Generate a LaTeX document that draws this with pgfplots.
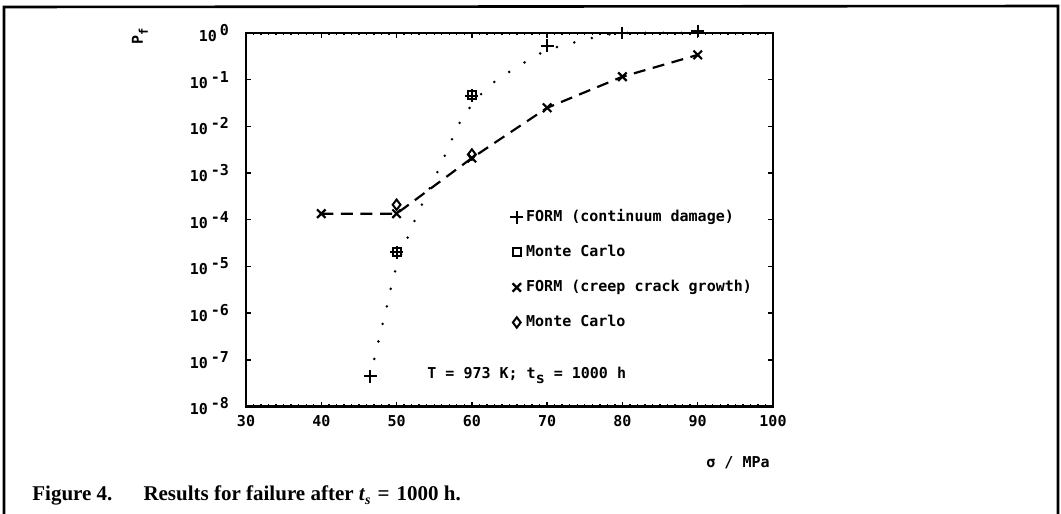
\documentclass[border=0pt]{standalone}
\usepackage{fontspec}
\setmainfont{Liberation Serif}
\newfontfamily\monofont{DejaVu Sans Mono}
\usepackage{pgfplots}
\pgfplotsset{compat=1.18}
\newcommand\cf{\monofont\bfseries\fontsize{7.5}{9}\selectfont}
\begin{document}
\begin{tikzpicture}
\useasboundingbox (0pt,0pt) rectangle (530.5pt,-257pt);
\begin{axis}[
  at={(123pt,-203.25pt)}, anchor=south west,
  scale only axis, width=263.5pt, height=186.75pt,
  xmin=30, xmax=100,
  ymode=log, log basis y=10, ymin=1e-8, ymax=1,
  xtick={30,40,50,60,70,80,90,100}, minor x tick num=9,
  ytick={1e-8,1e-7,1e-6,1e-5,1e-4,1e-3,1e-2,1e-1,1},
  tick align=inside, tick pos=both,
  major tick length=2.5pt, minor tick length=1.2pt,
  tick style={black, line width=0.7pt},
  axis line style={line width=1.2pt},
  clip=false,
  xticklabel style={font=\cf, yshift=-1pt},
  yticklabel style={font=\cf, xshift=-5pt},
  xticklabel={\pgfmathprintnumber[assume math mode=true]{\tick}},
  yticklabel={\pgfmathtruncatemacro\e{round(\tick)}10\hspace{1.5pt}\raisebox{3pt}{\e}},
  legend cell align=left,
  legend style={at={(0.499,0.534)}, anchor=north west, draw=none, fill=none,
    font=\cf, inner sep=0pt, row sep=7.5pt,
    nodes={inner sep=1pt, text height=6pt, text depth=2pt}},
  legend image code/.code={\path (-3.5pt,0pt) (3.5pt,0pt); \draw[#1] plot coordinates {(0pt,0pt)};},
]
% dotted curve (FORM, continuum damage)
\addplot[forget plot, smooth, tension=0.4, no marks, black, line width=1.4pt, line cap=round,
  dash pattern=on 0pt off 9pt] coordinates {
  (46.5,4.4e-8) (47.6,2.5e-7) (48.75,1.5e-6) (49.9,8.9e-6) (52.44,1e-4) (55.6,1.2e-3)
  (58.7,1.48e-2) (62.2,7.1e-2) (66.2,0.196) (70,0.43) (74.9,0.71) (77.2,0.86) (80,1.0) (90,1.0)};
% dashed curve (FORM, creep crack growth)
\addplot[forget plot, sharp plot, no marks, black, line width=1.1pt,
  dash pattern=on 6pt off 3.8pt] coordinates {
  (40,1.35e-4) (50,1.35e-4) (60,2.1e-3) (70,0.025) (80,0.116) (90,0.34)};
\addplot[only marks, black, mark=+, mark size=3.2pt, mark options={line width=1pt}] coordinates {
  (46.5,4.4e-8) (50,2e-5) (60,4.5e-2) (70,0.53) (80,1.0) (90,1.1)};
\addlegendentry{FORM (continuum damage)}
\addplot[only marks, black, mark=square, mark size=2pt, mark options={line width=1pt}] coordinates {
  (50,2e-5) (60,4.6e-2)};
\addlegendentry{Monte Carlo}
\addplot[only marks, black, mark=x, mark size=3pt, mark options={line width=1.1pt}] coordinates {
  (40,1.35e-4) (50,1.35e-4) (60,2.1e-3) (70,0.025) (80,0.116) (90,0.34)};
\addlegendentry{FORM (creep crack growth)}
\addplot[only marks, black, mark=diamond, mark size=2.6pt, mark options={line width=1pt}] coordinates {
  (50,2.1e-4) (60,2.5e-3)};
\addlegendentry{Monte Carlo}
\end{axis}
\begin{scope}[x=0.5pt,y=-0.5pt]
\draw[line width=1.3pt] (4,530) -- (4,7) -- (1058,6) -- (1058,530);
\node[rotate=90, font=\cf] at (140,36) {P\raisebox{-2.5pt}{\fontsize{6}{6}\selectfont f}};
\node[anchor=west, font=\cf, inner sep=0pt] at (427,375) {T = 973 K; t\raisebox{-2.5pt}{s} = 1000 h};
\node[font=\cf] at (738,463) {σ / MPa};
\node[anchor=base west, inner sep=0pt, font=\bfseries\fontsize{10.5}{12}\selectfont] at (32,500)
  {Figure 4.\hspace{12pt} Results for failure after \textit{t}\raisebox{-2pt}{\fontsize{7}{7}\selectfont\textit{s}}\,\,=\,\,1000 h.};
\end{scope}
\end{tikzpicture}
\end{document}
